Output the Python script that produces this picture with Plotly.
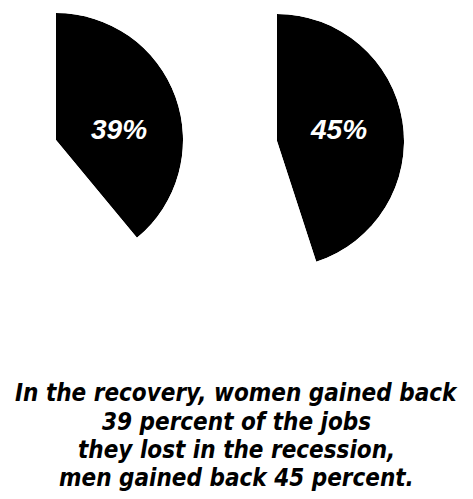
import math
import plotly.graph_objects as go

W, H = 473, 499

# ---- data ----
groups = ["Women", "Men"]
pct_regained = [39, 45]
slice_labels = ["39%", "45%"]
caption_lines = [
    "In the recovery, women gained back",
    "39 percent of the jobs",
    "they lost in the recession,",
    "men gained back 45 percent.",
]

# ---- layout geometry (pixels) ----
centers = [(56, 140), (277, 141)]
radius = 127

fig = go.Figure()
layout_polars = {}
for i, (g, p) in enumerate(zip(groups, pct_regained)):
    span = p / 100 * 360
    cx, cy = centers[i]
    low = math.sin(math.radians(span - 90))  # how far below centre the wedge reaches (fraction of r)
    bottom = max(0.0, -math.sin(math.radians(90 - span)))
    x0, x1 = cx, cx + radius
    ytop, ybot = cy - radius, cy + radius * bottom
    name = "polar" if i == 0 else f"polar{i+1}"
    fig.add_trace(go.Barpolar(
        r=[1], theta=[span / 2], width=[span], name=g,
        marker=dict(color="black", line=dict(width=0)),
        subplot=name, hoverinfo="skip", showlegend=False,
    ))
    layout_polars[name] = dict(
        domain=dict(x=[x0 / W, x1 / W], y=[(H - ybot) / H, (H - ytop) / H]),
        sector=[90 - span, 90],
        bgcolor="rgba(0,0,0,0)",
        radialaxis=dict(range=[0, 1], visible=False),
        angularaxis=dict(rotation=90, direction="clockwise", visible=False),
    )

label_pos = [(119, 129), (338, 129)]
annotations = []
for (lx, ly), t in zip(label_pos, slice_labels):
    annotations.append(dict(
        text=t, x=lx / W, y=(H - ly) / H, xref="paper", yref="paper",
        showarrow=False, xanchor="center", yanchor="middle",
        font=dict(family="Liberation Sans", size=28, color="white", weight="bold", style="italic"),
    ))

line_y = [393, 422, 450, 478]
for ly, t in zip(line_y, caption_lines):
    annotations.append(dict(
        text=t, x=236 / W, y=(H - ly) / H, xref="paper", yref="paper",
        showarrow=False, xanchor="center", yanchor="middle",
        font=dict(family="DejaVu Sans Condensed", size=24, color="black", weight="bold", style="italic"),
    ))

fig.update_layout(
    width=W, height=H, margin=dict(l=0, r=0, t=0, b=0),
    paper_bgcolor="white", plot_bgcolor="white",
    showlegend=False, annotations=annotations, **layout_polars,
)

fig.write_html("out.html", config=dict(displayModeBar=False))
